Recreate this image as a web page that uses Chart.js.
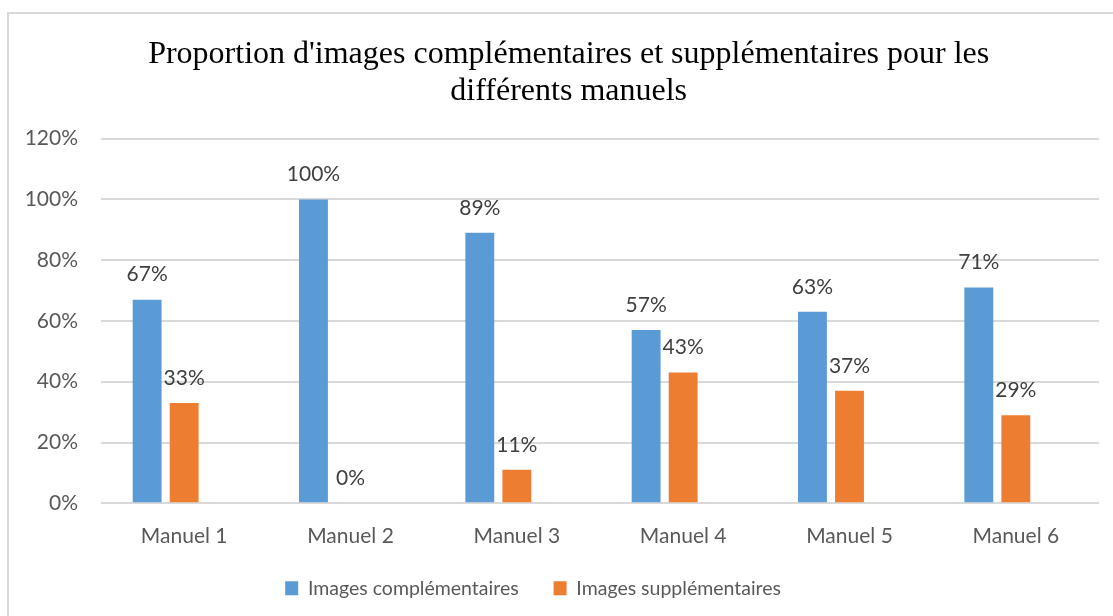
<!DOCTYPE html>
<html>
<head>
<meta charset="utf-8">
<script src="https://cdn.jsdelivr.net/npm/chart.js@4/dist/chart.umd.min.js"></script>
<style>
  html, body { margin: 0; padding: 0; background: #fff; overflow: hidden; }
  #frame { position: absolute; left: 7px; top: 12px; width: 1200px; height: 700px; border: 2px solid #d9d9d9; box-sizing: border-box; }
  #wrap { position: absolute; left: 0; top: 0; width: 1113px; height: 616px; }
</style>
</head>
<body>
<div id="frame"></div>
<div id="wrap"><canvas id="c" width="1113" height="616"></canvas></div>
<script>
const categories = ["Manuel 1", "Manuel 2", "Manuel 3", "Manuel 4", "Manuel 5", "Manuel 6"];
const complementaires = [67, 100, 89, 57, 63, 71];
const supplementaires = [33, 0, 11, 43, 37, 29];
const emptySeries = [null, null, null, null, null, null];
const seriesNames = ["Images complémentaires", "Images supplémentaires"];
const titleLines = ["Proportion d'images complémentaires et supplémentaires pour les", "différents manuels"];
const yTicks = [0, 20, 40, 60, 80, 100, 120];

const TICK_FONT = { family: "Lato", size: 21 };
const TITLE_INDENT = "    \u2009";

const dataLabels = {
  id: "dataLabels",
  afterDatasetsDraw(chart) {
    const ctx = chart.ctx;
    ctx.save();
    ctx.font = "21px Lato";
    ctx.fillStyle = "#404040";
    ctx.textAlign = "center";
    ctx.textBaseline = "middle";
    chart.data.datasets.forEach((ds, i) => {
      if (!ds.showLabels) return;
      const meta = chart.getDatasetMeta(i);
      meta.data.forEach((bar, j) => {
        const v = ds.data[j];
        if (v === null) return;
        ctx.fillText(v + "%", bar.x, bar.y - 25);
      });
    });
    ctx.restore();
  }
};

new Chart(document.getElementById("c"), {
  type: "bar",
  data: {
    labels: categories,
    datasets: [
      { label: seriesNames[0], data: complementaires, backgroundColor: "#5B9BD5", showLabels: true,
        categoryPercentage: 0.668, barPercentage: 0.78 },
      { label: seriesNames[1], data: supplementaires, backgroundColor: "#ED7D31", showLabels: true,
        categoryPercentage: 0.668, barPercentage: 0.78 },
      { label: "", data: emptySeries, backgroundColor: "rgba(0,0,0,0)", showLabels: false,
        categoryPercentage: 0.668, barPercentage: 0.78 }
    ]
  },
  options: {
    responsive: false,
    animation: false,
    layout: { padding: { left: 0, right: 14, top: 26, bottom: 8 } },
    plugins: {
      title: {
        display: true,
        text: titleLines.map(t => TITLE_INDENT + t),
        color: "#000",
        font: { family: "Liberation Serif", size: 32, weight: "normal", lineHeight: 1.15 },
        padding: { top: 10, bottom: 29 }
      },
      legend: {
        position: "bottom",
        labels: {
          font: { family: "Lato", size: 19.5 },
          color: "#595959",
          boxWidth: 13,
          boxHeight: 14,
          padding: 10,
          generateLabels(chart) {
            return chart.data.datasets.map((ds, i) => ({
              text: i === 0 ? ds.label + "     " : ds.label,
              fillStyle: ds.backgroundColor,
              strokeStyle: "rgba(0,0,0,0)",
              lineWidth: 0,
              datasetIndex: i,
              fontColor: "#595959"
            }));
          }
        }
      },
      tooltip: { enabled: false }
    },
    scales: {
      x: {
        grid: { display: false, drawTicks: false },
        border: { display: false },
        ticks: { font: TICK_FONT, color: "#595959", padding: 20 }
      },
      y: {
        min: 0, max: 120,
        afterFit(s) { s.width = 101; },
        afterBuildTicks(s) { s.ticks = yTicks.map(v => ({ value: v })); },
        grid: { color: "#d9d9d9", lineWidth: 2, drawTicks: false },
        border: { display: false },
        ticks: { font: TICK_FONT, color: "#595959", padding: 23, callback: v => v + "%" }
      }
    }
  },
  plugins: [dataLabels]
});
</script>
</body>
</html>
